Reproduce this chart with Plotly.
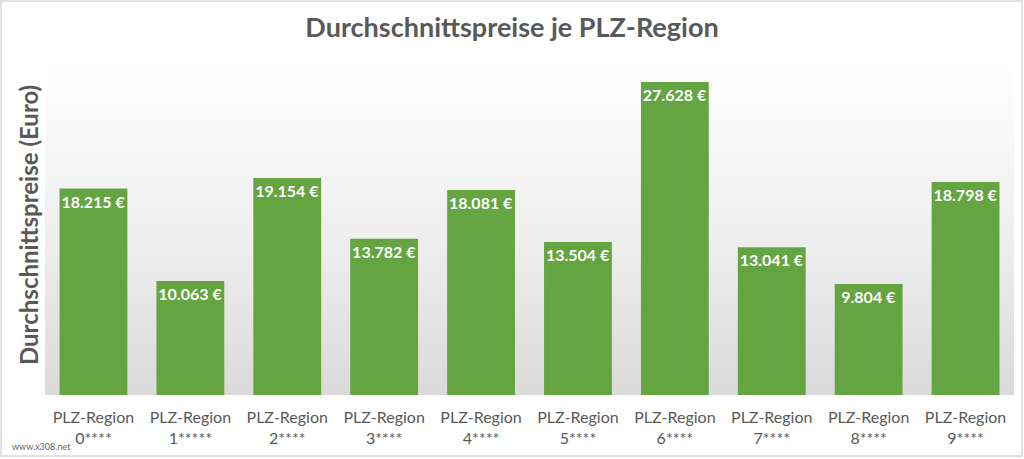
import plotly.graph_objects as go

# Daten: Durchschnittspreise je PLZ-Region
regionen = ['0****', '1*****', '2****', '3****', '4****', '5****', '6****', '7****', '8****', '9****']
preise = [18215, 10063, 19154, 13782, 18081, 13504, 27628, 13041, 9804, 18798]
tick_labels = ['PLZ-Region<br>' + r for r in regionen]

y_max = 30000
grau = '#595959'
schrift = 'Lato'

fig = go.Figure()

# Hintergrund-Verlauf im Plotbereich (weiss oben -> grau unten), auf x/y
fig.add_trace(go.Scatter(
    x=[-0.5, 9.5, 9.5, -0.5, -0.5],
    y=[0, 0, y_max, y_max, 0],
    mode='lines', line=dict(width=0),
    fill='toself',
    fillgradient=dict(type='vertical',
                      colorscale=[[0, '#dadada'], [0.45, '#eeeeee'], [1, '#ffffff']]),
    hoverinfo='skip', showlegend=False,
))

# Balken auf x2/y2 (liegt ueber dem Hintergrund)
fig.add_trace(go.Bar(
    x=list(range(len(preise))),
    y=preise,
    xaxis='x2', yaxis='y2',
    width=0.7,
    marker=dict(color='#64a441', line=dict(width=0)),
    texttemplate='%{y:,.0f} €',
    textposition='inside',
    insidetextanchor='end',
    constraintext='none',
    textangle=0,
    textfont=dict(family=schrift, size=16, color='white', weight='bold'),
    showlegend=False,
))

achse_aus = dict(showgrid=False, zeroline=False, showline=False, automargin=False)

fig.update_layout(
    width=1024, height=459,
    margin=dict(l=45, r=10, t=55, b=64),
    paper_bgcolor='white',
    plot_bgcolor='rgba(0,0,0,0)',
    separators=',.',
    font=dict(family=schrift, color=grau),
    title=dict(text='<b>Durchschnittspreise je PLZ-Region</b>',
               x=0.5, xanchor='center', y=1 - 28 / 459, yanchor='middle',
               font=dict(size=27, color=grau, family=schrift)),
    xaxis=dict(range=[-0.5, 9.5],
               tickvals=list(range(len(preise))), ticktext=tick_labels,
               tickfont=dict(size=16, color=grau), ticks='', ticklabelstandoff=11,
               **achse_aus),
    yaxis=dict(range=[0, y_max], showticklabels=False, **achse_aus),
    xaxis2=dict(range=[-0.5, 9.5], overlaying='x', showticklabels=False, **achse_aus),
    yaxis2=dict(range=[0, y_max], overlaying='y', showticklabels=False, **achse_aus),
)

# Achsentitel
fig.add_annotation(text='<b>Durchschnittspreise (Euro)</b>', xref='paper', yref='paper',
                   x=-17 / 969, y=(395 - 225) / 340, xanchor='center', yanchor='middle',
                   textangle=-90, showarrow=False,
                   font=dict(size=24, color=grau, family=schrift))

# Wasserzeichen
fig.add_annotation(text='www.x308.net', xref='paper', yref='paper',
                   x=-35 / 969, y=-52 / 340, xanchor='left', yanchor='middle',
                   showarrow=False, font=dict(size=9, color='#666666', family=schrift))

# duenner Rahmen um das Bild
fig.add_shape(type='rect', xref='paper', yref='paper',
              x0=-44 / 969, x1=1 + 8 / 969, y0=-61 / 340, y1=1 + 54 / 340,
              line=dict(color='#d9d9d9', width=1.5), layer='above')

fig.write_html('out.html', config={'displayModeBar': False},
               post_script="document.body.style.margin='0';")
